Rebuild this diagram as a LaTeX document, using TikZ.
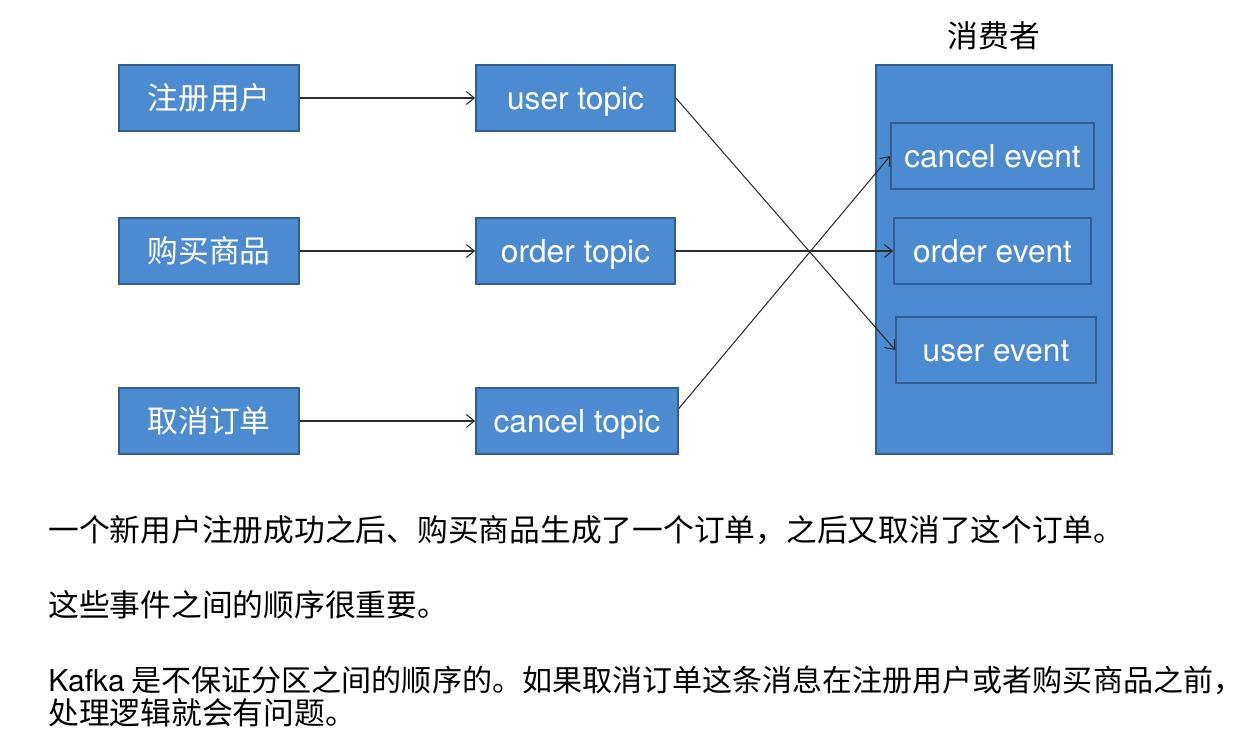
\documentclass[tikz,border=0pt]{standalone}
\usepackage{fontspec}
\setmainfont{TeX Gyre Heros}
\newfontfamily\cjk{Noto Sans CJK SC}
\usetikzlibrary{positioning, arrows.meta}
\definecolor{boxblue}{RGB}{77,139,208}
\definecolor{boxline}{RGB}{50,94,146}
\definecolor{linegray}{RGB}{45,45,45}

\begin{document}
\begin{tikzpicture}[x=0.02cm, y=-0.02cm,
    blk/.style={draw=boxline, line width=1pt, fill=boxblue, text=white,
        minimum height=1.32cm, inner sep=0pt, font=\fontsize{18}{20}\selectfont},
    en/.style={text height=13pt, text depth=0pt},
    cn/.style={font=\cjk\fontsize{17.5}{20}\selectfont},
    link/.style={draw=linegray, line width=0.6pt, -{Straight Barb[length=1.6mm, width=2.6mm]}},
    para/.style={anchor=west, inner sep=0pt, font=\cjk\fontsize{17.5}{20}\selectfont}]
    \useasboundingbox (0,0) rectangle (1260,732);
    % Producers
    \node[blk, cn, minimum width=3.6cm] (reg) at (209,98) {注册用户};
    \node[blk, cn, minimum width=3.6cm] (buy) at (209,251) {购买商品};
    \node[blk, cn, minimum width=3.6cm] (cnl) at (209,421) {取消订单};
    % Topics
    \node[blk, en, minimum width=3.98cm] (utopic) at (575.5,98) {user topic};
    \node[blk, en, minimum width=3.98cm] (otopic) at (575.5,251) {order topic};
    \node[blk, en, minimum width=4.04cm] (ctopic) at (577,421) {cancel topic};
    % Consumer
    \node[blk, minimum width=4.72cm, minimum height=7.78cm] (cons) at (994,259.5) {};
    \node[cn] (constitle) at (994,36) {消费者};
    \node[blk, en, minimum width=4.06cm] (cevent) at (992.5,156) {cancel event};
    \node[blk, en, minimum width=3.94cm] (oevent) at (992.5,251) {order event};
    \node[blk, en, minimum width=4.0cm] (uevent) at (996,350) {user event};
    % Links
    \draw[link] (reg) -- (utopic);
    \draw[link] (buy) -- (otopic);
    \draw[link] (cnl) -- (ctopic);
    \draw[link] (utopic.east) -- (uevent.west);
    \draw[link] (otopic.east) -- (oevent.west);
    \draw[link] (ctopic.7) -- (cevent.west);
    % Notes
    \node[para] (note1) at (48,530) {一个新用户注册成功之后、购买商品生成了一个订单，之后又取消了这个订单。};
    \node[para] (note2) at (48,605) {这些事件之间的顺序很重要。};
    \node[para, font=\cjk\fontsize{17.1}{20}\selectfont] (note3) at (48,680) {{\rmfamily Kafka} 是不保证分区之间的顺序的。如果取消订单这条消息在注册用户或者购买商品之前，};
    \node[para] (note4) at (48,713) {处理逻辑就会有问题。};
\end{tikzpicture}
\end{document}
